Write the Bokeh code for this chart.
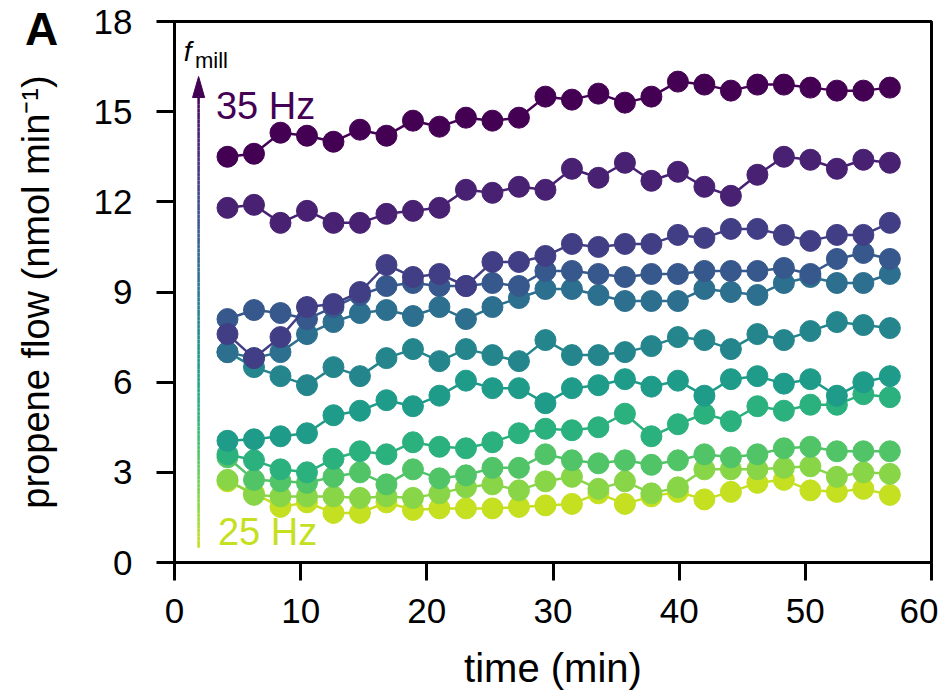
import numpy as np
from bokeh.plotting import figure
from bokeh.models import Label, Range1d, FixedTicker, Div
from bokeh.layouts import column
from bokeh.palettes import Viridis256
from bokeh.embed import file_html
from bokeh.resources import INLINE

# ---------------- data ----------------
time_min = [4.2, 6.3, 8.4, 10.5, 12.6, 14.7, 16.8, 18.9, 21.0, 23.1, 25.2, 27.3, 29.4,
            31.5, 33.6, 35.7, 37.8, 39.9, 42.0, 44.1, 46.2, 48.3, 50.4, 52.5, 54.6, 56.7]

f25 = [2.7, 2.3, 1.85, 2.0, 1.65, 1.65, 2.0, 1.75, 1.8, 1.8, 1.8, 1.85, 1.9,
       1.95, 2.3, 1.95, 2.2, 2.35, 2.1, 2.35, 2.65, 2.75, 2.4, 2.35, 2.45, 2.25]
f26 = [2.75, 2.25, 2.2, 2.2, 2.2, 2.15, 2.2, 2.15, 2.3, 2.5, 2.6, 2.4, 2.7,
       2.85, 2.45, 2.7, 2.3, 2.5, 3.1, 3.1, 3.1, 3.15, 3.2, 2.85, 3.0, 2.95]
f27 = [3.5, 2.75, 2.7, 2.65, 2.85, 3.0, 2.6, 3.1, 2.8, 2.9, 3.15, 3.15, 3.6,
       3.4, 3.3, 3.4, 3.25, 3.4, 3.6, 3.5, 3.6, 3.8, 3.85, 3.7, 3.7, 3.7]
f28 = [3.6, 3.4, 3.1, 3.0, 3.45, 3.7, 3.6, 4.0, 3.85, 3.8, 4.0, 4.3, 4.45,
       4.4, 4.5, 4.95, 4.2, 4.6, 4.95, 4.7, 5.2, 5.05, 5.25, 5.25, 5.6, 5.5]
f29 = [4.05, 4.1, 4.2, 4.3, 4.9, 5.05, 5.4, 5.2, 5.55, 6.05, 5.8, 5.8, 5.3,
       5.8, 5.9, 6.1, 5.85, 6.05, 5.55, 6.1, 6.2, 5.95, 6.1, 5.55, 6.0, 6.2]
f30 = [7.0, 6.5, 6.2, 5.9, 6.5, 6.2, 6.8, 7.1, 6.7, 7.1, 6.9, 6.7, 7.4,
       6.9, 6.9, 7.0, 7.2, 7.5, 7.4, 7.1, 7.6, 7.4, 7.7, 8.0, 7.9, 7.8]
f31 = [7.0, 6.8, 7.0, 7.6, 8.0, 8.3, 8.4, 8.2, 8.5, 8.1, 8.5, 8.8, 9.1,
       9.1, 8.9, 8.7, 8.7, 8.7, 9.1, 9.0, 8.9, 9.3, 9.5, 9.3, 9.3, 9.6]
f32 = [8.1, 8.4, 8.3, 8.1, 8.5, 8.9, 9.2, 9.3, 9.2, 9.2, 9.3, 9.2, 9.7,
       9.7, 9.6, 9.5, 9.6, 9.6, 9.7, 9.7, 9.7, 9.8, 9.6, 10.1, 10.3, 10.1]
f33 = [7.6, 6.8, 7.5, 8.5, 8.6, 9.0, 9.9, 9.5, 9.6, 9.2, 10.0, 10.0, 10.2,
       10.6, 10.5, 10.6, 10.6, 10.9, 10.8, 11.1, 11.1, 10.9, 10.7, 10.9, 10.9, 11.3]
f34 = [11.8, 11.9, 11.3, 11.7, 11.3, 11.3, 11.6, 11.7, 11.8, 12.4, 12.3, 12.5, 12.4,
       13.1, 12.8, 13.3, 12.7, 13.0, 12.5, 12.2, 12.9, 13.5, 13.4, 13.1, 13.4, 13.3]
f35 = [13.5, 13.6, 14.3, 14.2, 14.0, 14.4, 14.2, 14.7, 14.5, 14.8, 14.7, 14.8, 15.5,
       15.4, 15.6, 15.3, 15.5, 16.0, 15.9, 15.7, 15.9, 15.9, 15.8, 15.7, 15.7, 15.8]

frequencies_hz = [25, 26, 27, 28, 29, 30, 31, 32, 33, 34, 35]
series = [f25, f26, f27, f28, f29, f30, f31, f32, f33, f34, f35]

x_ticks = [0, 10, 20, 30, 40, 50, 60]
y_ticks = [0, 3, 6, 9, 12, 15, 18]

# ---------------- style ----------------
FONT = "Liberation Sans"
PAL_TOP = 233  # viridis index for lowest frequency
colors = [Viridis256[int(round(PAL_TOP * (len(series) - 1 - i) / (len(series) - 1)))]
          for i in range(len(series))]

p = figure(width=938, height=692, x_range=Range1d(0, 60), y_range=Range1d(0, 18),
           output_backend="svg", toolbar_location=None,
           min_border_left=174, min_border_right=7, min_border_top=21, min_border_bottom=129)
p.background_fill_color = "white"
p.border_fill_color = "white"
p.xgrid.visible = False
p.ygrid.visible = False
p.outline_line_color = "black"
p.outline_line_width = 3

p.xaxis.ticker = FixedTicker(ticks=x_ticks)
p.yaxis.ticker = FixedTicker(ticks=y_ticks)
for ax in (p.xaxis, p.yaxis):
    ax.axis_line_width = 3
    ax.axis_line_color = "black"
    ax.major_tick_line_width = 3
    ax.major_tick_line_color = "black"
    ax.major_tick_out = 18
    ax.major_tick_in = 0
    ax.minor_tick_line_color = None
    ax.major_label_text_font = FONT
    ax.major_label_text_font_size = "35px"
    ax.major_label_text_color = "black"
    ax.axis_label_text_font = FONT
    ax.axis_label_text_font_style = "normal"
    ax.axis_label_text_color = "black"

p.xaxis.axis_label_text_font_size = "40px"
p.yaxis.axis_label_text_font_size = "38px"
p.xaxis.major_label_standoff = 18
p.yaxis.major_label_standoff = 24
p.xaxis.axis_label = "time (min)"
p.yaxis.axis_label = "propene flow (nmol min\u207b\u00b9)"
p.xaxis.axis_label_standoff = 20
p.yaxis.axis_label_standoff = 34

# ---------------- series ----------------
for vals, c in zip(series, colors):
    p.line(time_min, vals, line_color=c, line_width=2.5)
    p.scatter(time_min, vals, size=21, fill_color=c, line_color=c, line_width=1)

# ---------------- f_mill arrow ----------------
arrow_x, arrow_y0, arrow_y1 = 1.91, 0.49, 16.17
head_len, head_half = 0.7, 0.48
n_seg = 120
ys = np.linspace(arrow_y0, arrow_y1 - head_len * 0.8, n_seg + 1)
seg_cols = [Viridis256[int(round(PAL_TOP * (1 - k / (n_seg - 1))))] for k in range(n_seg)]
p.segment(x0=[arrow_x] * n_seg, y0=ys[:-1], x1=[arrow_x] * n_seg, y1=ys[1:],
          line_color=seg_cols, line_width=2.5)
p.patch([arrow_x - head_half, arrow_x + head_half, arrow_x],
        [arrow_y1 - head_len, arrow_y1 - head_len, arrow_y1],
        fill_color=colors[-1], line_color=colors[-1])

p.add_layout(Label(x=0.74, y=16.50, text="f", text_font=FONT, text_font_size="28px",
                   text_font_style="italic", text_color="black"))
p.add_layout(Label(x=1.62, y=16.28, text="mill", text_font=FONT, text_font_size="22px",
                   text_color="black"))
p.add_layout(Label(x=3.28, y=14.48, text="35 Hz", text_font=FONT, text_font_size="38px",
                   text_color=colors[-1]))
p.add_layout(Label(x=3.44, y=0.32, text="25 Hz", text_font=FONT, text_font_size="38px",
                   text_color=colors[0]))

# panel letter (outside the plot frame, so placed as an overlay text element)
panel_letter = Div(text="A", styles={
    "position": "absolute", "left": "20px", "top": "0px", "z-index": "10",
    "font-family": "'Liberation Sans', Arial, sans-serif", "font-weight": "bold",
    "font-size": "46px", "line-height": "48px", "color": "black"})

layout = column(p, panel_letter)

open("out.html", "w").write(file_html(layout, INLINE))
